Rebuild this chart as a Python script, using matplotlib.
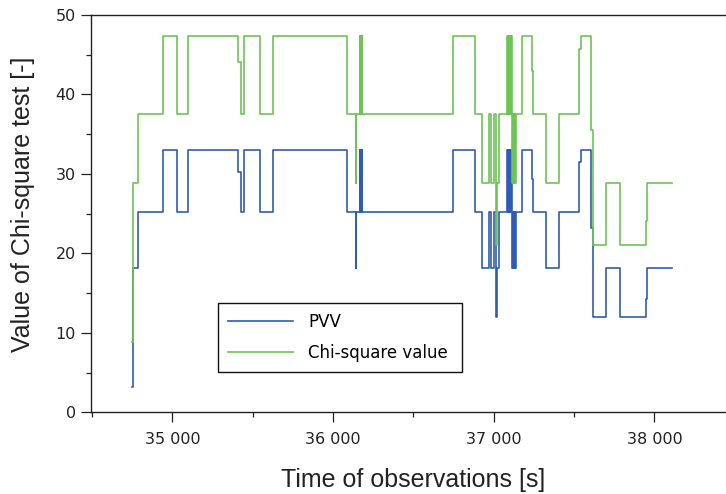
""" PVV and chi-square test values over time """
import matplotlib
import matplotlib.pyplot as plt
import matplotlib.ticker as ticker
matplotlib.use('agg')

# change points of both series (values hold until the next time)
time_s = [34750, 34753, 34788, 34940, 35031, 35096, 35411, 35428, 35448,
          35546, 35629, 36089, 36141, 36143,
          36168, 36170, 36172, 36174, 36176, 36178, 36180, 36182,
          36745, 36884, 36927, 36970, 36982, 37001, 37015, 37017, 37019,
          37033,
          37085, 37088, 37091, 37094, 37097, 37100, 37103, 37106, 37109,
          37112, 37116, 37119, 37122, 37125, 37128, 37131, 37134, 37139,
          37174, 37236, 37246, 37326, 37407, 37530, 37540, 37606, 37617,
          37698, 37787, 37947, 37955, 38108]

pvv = [3.2, 18.1, 25.2, 33.0, 25.2, 33.0, 30.3, 25.2, 33.0,
       25.2, 33.0, 25.2, 18.1, 25.2,
       33.0, 25.2, 33.0, 25.2, 33.0, 25.2, 33.0, 25.2,
       33.0, 25.2, 18.1, 25.2, 18.1, 25.2, 18.1, 12.0, 18.1,
       25.2,
       33.0, 25.2, 33.0, 25.2, 33.0, 25.2, 33.0, 25.2, 33.0,
       25.2, 18.1, 25.2, 18.1, 25.2, 18.1, 25.2, 18.1, 25.2,
       33.0, 29.4, 25.2, 18.1, 25.2, 31.5, 33.0, 23.2, 12.0,
       18.1, 12.0, 14.3, 18.1, 18.1]

chi_sq = [8.9, 28.9, 37.6, 47.4, 37.6, 47.4, 44.1, 37.6, 47.4,
          37.6, 47.4, 37.6, 28.9, 37.6,
          47.4, 37.6, 47.4, 37.6, 47.4, 37.6, 47.4, 37.6,
          47.4, 37.6, 28.9, 37.6, 28.9, 37.6, 28.9, 21.0, 28.9,
          37.6,
          47.4, 37.6, 47.4, 37.6, 47.4, 37.6, 47.4, 37.6, 47.4,
          37.6, 28.9, 37.6, 28.9, 37.6, 28.9, 37.6, 28.9, 37.6,
          47.4, 42.9, 37.6, 28.9, 37.6, 45.7, 47.4, 35.5, 21.0,
          28.9, 21.0, 24.1, 28.9, 28.9]

labels = ["PVV", "Chi-square value"]
colours = ["#2f5cb5", "#6cc554"]


def thousands(val, pos):
    """ format tick as 35 000 """
    return f"{val:,.0f}".replace(",", " ")


def plot_chi(fname):
    """ step plot of both series """
    fig = plt.figure(figsize=(7.26, 4.94), dpi=100)
    ax = fig.add_axes([91 / 726, 81.7 / 494, 643.8 / 726, 397.3 / 494])

    ax.plot(time_s, pvv, drawstyle='steps-post', color=colours[0],
            lw=1.2, label=labels[0])
    ax.plot(time_s, chi_sq, drawstyle='steps-post', color=colours[1],
            lw=1.2, label=labels[1])

    ax.set_xlim(34494, 38500)
    ax.set_ylim(0, 50)
    ax.xaxis.set_major_locator(ticker.MultipleLocator(1000))
    ax.xaxis.set_minor_locator(ticker.MultipleLocator(500))
    ax.yaxis.set_major_locator(ticker.MultipleLocator(10))
    ax.yaxis.set_minor_locator(ticker.MultipleLocator(5))
    ax.xaxis.set_major_formatter(ticker.FuncFormatter(thousands))

    for sp in ax.spines.values():
        sp.set_linewidth(1.0)
        sp.set_color("#222222")
    ax.tick_params(which='major', length=7, width=0.9, color="#222222",
                   labelsize=11.5, labelcolor="#222222")
    ax.tick_params(which='minor', length=3.5, width=0.9, color="#222222")
    ax.tick_params(axis='x', which='major', pad=7)
    ax.tick_params(axis='y', which='major', pad=4)

    ax.set_xlabel("Time of observations [s]", family="Liberation Sans",
                  fontsize=18, color="#222222")
    ax.set_ylabel("Value of Chi-square test [-]", family="Liberation Sans",
                  fontsize=18, color="#222222")
    ax.xaxis.set_label_coords(0.5, -0.14)
    ax.yaxis.set_label_coords(-0.087, 0.524)

    leg = ax.legend(loc='upper left', mode='expand',
                    bbox_to_anchor=(0.1977, 0.104, 0.3781, 0.1704),
                    fontsize=12, handlelength=3.9, handletextpad=0.9,
                    borderpad=0.6, labelspacing=0.76, fancybox=False,
                    framealpha=1, edgecolor="#111111", borderaxespad=0)
    leg.get_frame().set_linewidth(1.0)

    fig.savefig(fname, dpi=100)


plot_chi("out.png")
